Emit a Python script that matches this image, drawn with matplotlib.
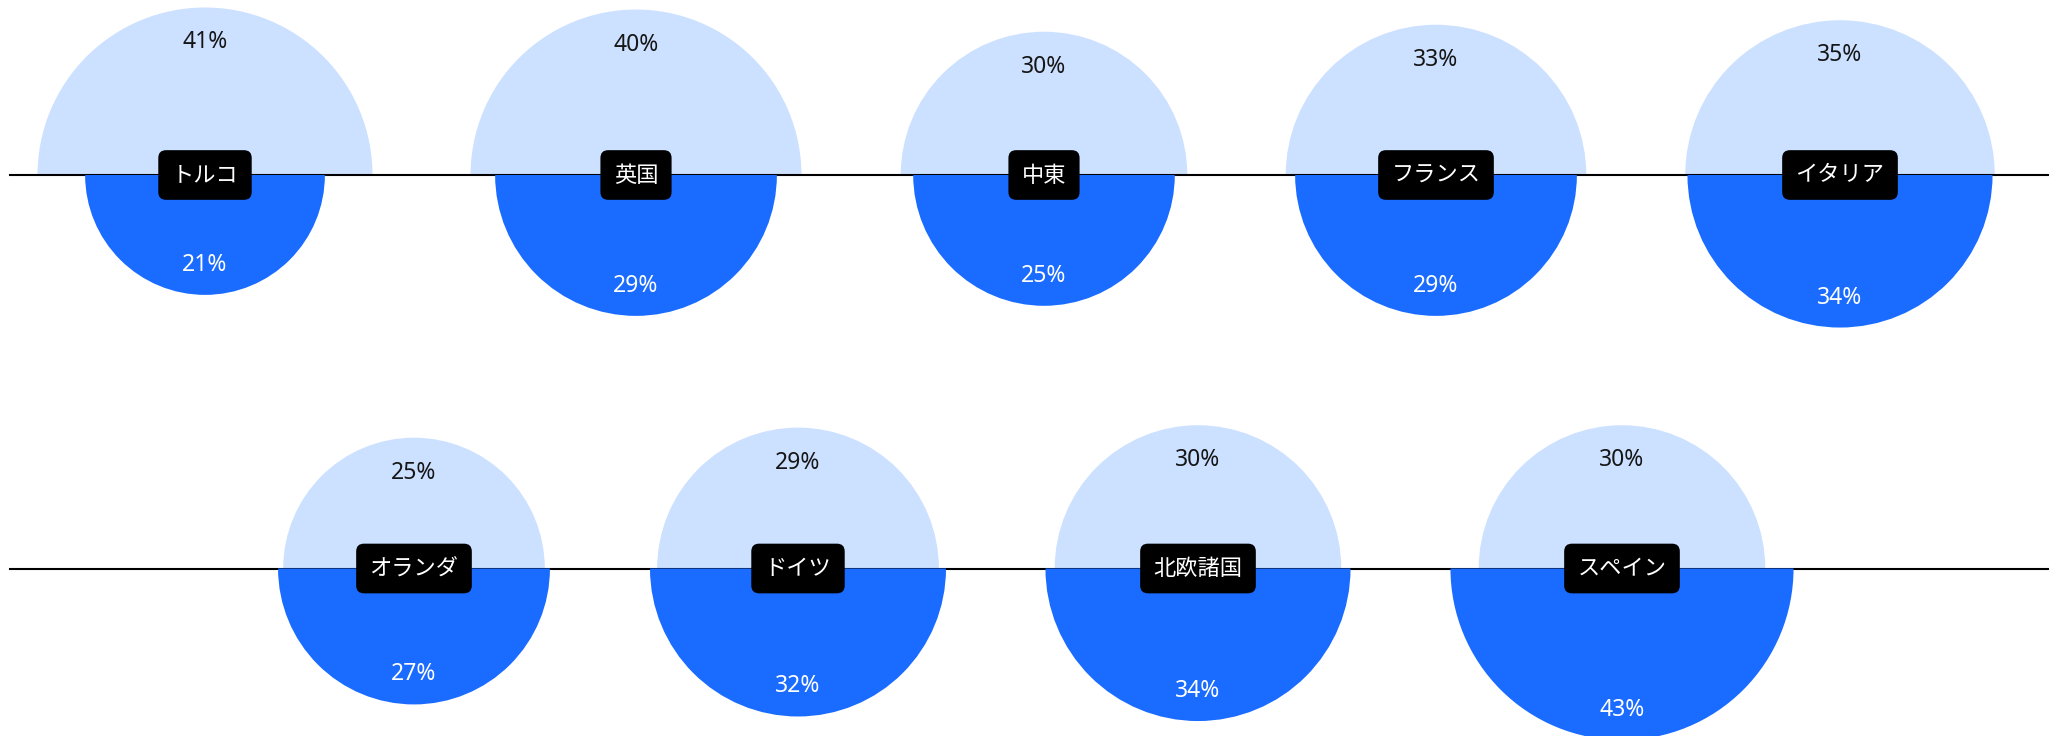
import numpy as np
import matplotlib
matplotlib.use('Agg')
import matplotlib.pyplot as plt
from matplotlib.patches import Wedge

plt.rcParams['font.family'] = ['Noto Sans CJK JP', 'DejaVu Sans']

# data
row1_names = ['トルコ', '英国', '中東', 'フランス', 'イタリア']
row1_top = [41, 40, 30, 33, 35]
row1_bottom = [21, 29, 25, 29, 34]
row2_names = ['オランダ', 'ドイツ', '北欧諸国', 'スペイン']
row2_top = [25, 29, 30, 30]
row2_bottom = [27, 32, 34, 43]

LIGHT = '#cce0ff'
DARK = '#1a6bff'
W, H = 2049, 736
K = 26.16  # pixel radius per sqrt(percent)

row1_x = [205, 636, 1044, 1436, 1840]
row2_x = [414, 798, 1198, 1622]
row_y = [175, 568.5]

fig = plt.figure(figsize=(W / 100, H / 100), dpi=100)
ax = fig.add_axes([0, 0, 1, 1])
ax.set_xlim(0, W)
ax.set_ylim(H, 0)
ax.set_aspect('equal')
ax.axis('off')


def draw_row(xs, y, names, tops, bottoms):
    ax.plot([10, W], [y, y], color='black', lw=1.5, zorder=1)
    for x, name, t, b in zip(xs, names, tops, bottoms):
        rt = K * np.sqrt(t)
        rb = K * np.sqrt(b)
        # y axis is inverted, so angles flip
        ax.add_patch(Wedge((x, y), rt, 180, 360, fc=LIGHT, ec='none', zorder=0))
        ax.add_patch(Wedge((x, y), rb, 0, 180, fc=DARK, ec='none', zorder=2))
        ax.text(x, y - rt + 35, f'{t}%', ha='center', va='center',
                fontsize=16.5, family='Noto Sans', color='#161616', zorder=3)
        ax.text(x, y + rb - 30, f'{b}%', ha='center', va='center',
                fontsize=16.5, family='Noto Sans', color='white', zorder=3)
        ax.text(x, y, name, ha='center', va='center', fontsize=16,
                color='white', zorder=4,
                bbox=dict(boxstyle='round,pad=0.6,rounding_size=0.35',
                          fc='black', ec='none'))


draw_row(row1_x, row_y[0], row1_names, row1_top, row1_bottom)
draw_row(row2_x, row_y[1], row2_names, row2_top, row2_bottom)

plt.savefig('out.png', dpi=100)
plt.close()
